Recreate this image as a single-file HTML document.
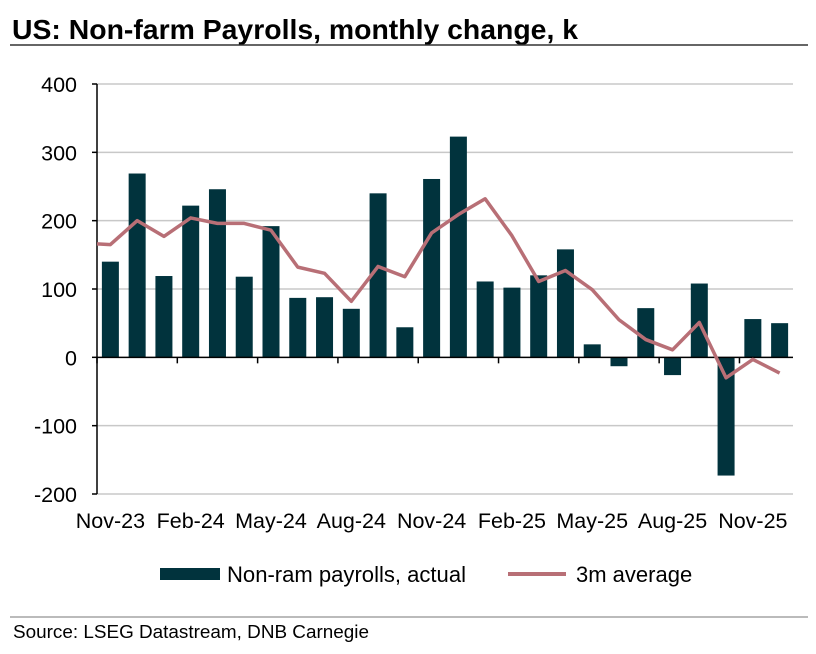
<!DOCTYPE html>
<html><head><meta charset="utf-8"><style>
body{margin:0;background:#fff;font-family:"Liberation Sans",Arial,sans-serif;}
svg text{font-family:"Liberation Sans",Arial,sans-serif;}
</style></head><body>
<svg id="c" width="816" height="649" xmlns="http://www.w3.org/2000/svg">
<text x="12" y="39" font-size="28" font-weight="bold" fill="#000" textLength="566" lengthAdjust="spacingAndGlyphs">US: Non-farm Payrolls, monthly change, k</text>
<line x1="10" y1="45" x2="808" y2="45" stroke="#333" stroke-width="1.5"/>
<g id="plot"></g>
<g>
<rect x="160" y="568" width="60" height="12" fill="#01333d"/>
<text x="227" y="582" font-size="22" textLength="239" lengthAdjust="spacingAndGlyphs">Non-ram payrolls, actual</text>
<line x1="508" y1="574" x2="566" y2="574" stroke="#b86f76" stroke-width="4"/>
<text x="576" y="582" font-size="22">3m average</text>
</g>
<line x1="10" y1="617" x2="808" y2="617" stroke="#777" stroke-width="1"/>
<text x="13" y="638" font-size="18.5" textLength="356" lengthAdjust="spacingAndGlyphs">Source: LSEG Datastream, DNB Carnegie</text>
</svg>
<script>
const categories=["Nov-23","Dec-23","Jan-24","Feb-24","Mar-24","Apr-24","May-24","Jun-24","Jul-24","Aug-24","Sep-24","Oct-24","Nov-24","Dec-24","Jan-25","Feb-25","Mar-25","Apr-25","May-25","Jun-25","Jul-25","Aug-25","Sep-25","Oct-25","Nov-25","Dec-25"];
const actual=[140,269,119,222,246,118,192,87,88,71,240,44,261,323,111,102,120,158,19,-13,72,-26,108,-173,56,50];
const avg3m=[165,200,177,204,196,196,186,132,123,82,133,118,182,209,232,178,111,127,99,55,26,11,51,-30,-3,-23];
const avgPrev=167;
const yTicks=[400,300,200,100,0,-100,-200];
const xLabelIdx=[0,3,6,9,12,15,18,21,24];

const NS="http://www.w3.org/2000/svg";
const g=document.getElementById('plot');
const L=97,R=793,T=84,B=494,ymax=400,ymin=-200;
const n=categories.length, step=(R-L)/n;
const y=v=>T+(ymax-v)/(ymax-ymin)*(B-T);
const xc=i=>L+step*(i+0.5);
function mk(t,a){const e=document.createElementNS(NS,t);for(const k in a)e.setAttribute(k,a[k]);g.appendChild(e);return e;}
yTicks.forEach(v=>{
  if(v!==0){const l=mk('line',{x1:L,x2:R,y1:y(v),y2:y(v),stroke:'#c8c8c8','stroke-width':1.5});
  
  }
  const t=mk('text',{x:L-20,y:y(v)+8,'font-size':21.5,'text-anchor':'end'});t.textContent=v;
  
  
  const tk=mk('line',{x1:L-5,x2:L,y1:y(v),y2:y(v),stroke:'#000','stroke-width':1.5});
  
  
});
actual.forEach((v,i)=>{
  const r=mk('rect',{x:xc(i)-8.5,width:17,y:Math.min(y(v),y(0)),height:Math.abs(y(v)-y(0)),fill:'#01333d'});
  
  
});
const ax=mk('line',{x1:L,x2:R,y1:y(0),y2:y(0),stroke:'#000','stroke-width':1.5});


const ay=mk('line',{x1:L,x2:L,y1:T,y2:B,stroke:'#000','stroke-width':1.5});


for(let i=0;i<=n;i+=3){
  const tk=mk('line',{x1:L+step*i,x2:L+step*i,y1:y(0),y2:y(0)+6,stroke:'#000','stroke-width':1.5});
  
  
}
xLabelIdx.forEach(i=>{
  const t=mk('text',{x:xc(i)+0,y:528,'font-size':21.5,'text-anchor':'middle'});t.textContent=categories[i];
  
  
});
const x0=L, v0=avgPrev+(avg3m[0]-avgPrev)*((L-xc(-1))/step);
let d='M'+x0+','+y(v0);
avg3m.forEach((v,i)=>{d+=' L'+xc(i)+','+y(v);});
const p=mk('path',{d:d,fill:'none',stroke:'#b86f76','stroke-width':3.5,'stroke-linejoin':'round'});


</script>
</body></html>
